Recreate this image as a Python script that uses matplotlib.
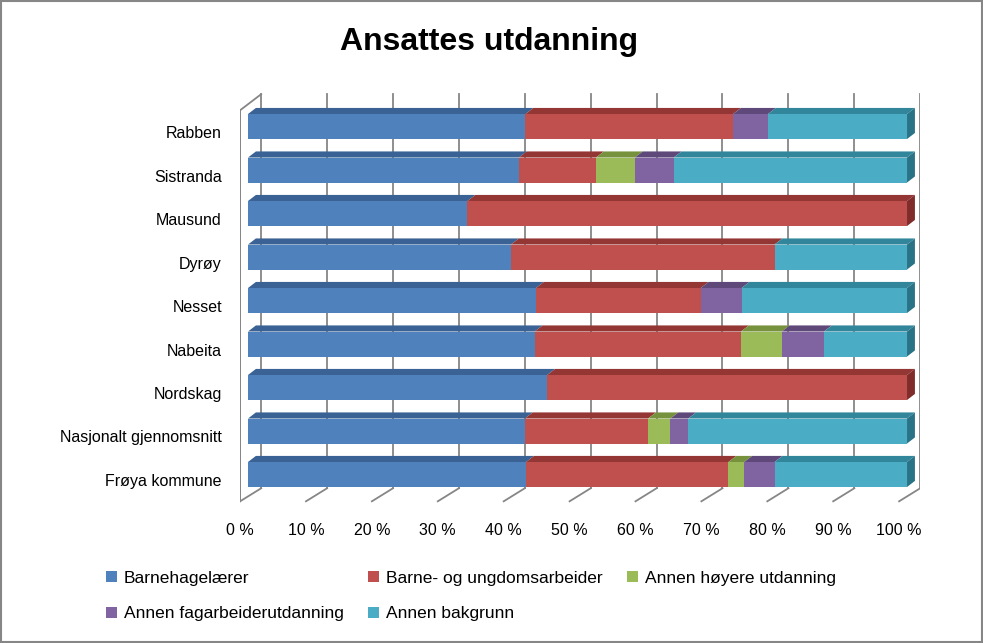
import matplotlib.pyplot as plt
from matplotlib.patches import Polygon, Rectangle, Patch
import numpy as np

plt.rcParams['font.family'] = ['Liberation Sans', 'DejaVu Sans']

# data (percent), bottom to top
categories = ['Frøya kommune', 'Nasjonalt gjennomsnitt', 'Nordskag', 'Nabeita', 'Nesset',
              'Dyrøy', 'Mausund', 'Sistranda', 'Rabben']
barnehagelaerer = [42.2, 42.0, 45.4, 43.5, 43.7, 39.9, 33.3, 41.1, 42.1]
barne_ungdom = [30.7, 18.7, 54.6, 31.3, 25.0, 40.0, 66.7, 11.7, 31.5]
annen_hoyere = [2.4, 3.4, 0.0, 6.2, 0.0, 0.0, 0.0, 5.9, 0.0]
annen_fagarb = [4.6, 2.7, 0.0, 6.4, 6.2, 0.0, 0.0, 5.9, 5.3]
annen_bakgrunn = [20.1, 33.2, 0.0, 12.6, 25.1, 20.1, 0.0, 35.4, 21.1]

series_names = ['Barnehagelærer', 'Barne- og ungdomsarbeider', 'Annen høyere utdanning',
                'Annen fagarbeiderutdanning', 'Annen bakgrunn']
front_colors = ['#4F81BD', '#C0504D', '#9BBB59', '#8064A2', '#4BACC6']
top_colors = ['#3A6295', '#943634', '#76923C', '#5F497A', '#31869B']
side_colors = ['#345684', '#7F2C2A', '#647D34', '#51406A', '#2A7386']

xticks = np.arange(0, 101, 10)
xtick_labels = ['%d %%' % v for v in xticks]

# 3d look, in data units
bar_h = 0.575
bar_off = 0.126
dx, dy = 1.2, 0.14
floor_front = (-1.2, -0.49)
floor_back = (2.0, -0.19)
wall_top_front = 8.5
wall_top_back = 8.87
grid_col = '#868686'

fig = plt.figure(figsize=(9.83, 6.43), dpi=100)
ax = fig.add_axes([240 / 983, (643 - 505) / 643, 680 / 983, 415 / 643])
ax.set_xlim(-1.214, 101.97)
ax.set_ylim(-0.575, 8.966)

# back wall grid and floor
for v in xticks:
    ax.plot([v + floor_back[0]] * 2, [floor_back[1], wall_top_back], color=grid_col, lw=1.3, zorder=1)
    ax.plot([v + floor_front[0], v + floor_back[0]], [floor_front[1], floor_back[1]],
            color=grid_col, lw=1.3, zorder=1)
ax.plot([floor_front[0], floor_front[0], floor_back[0]],
        [floor_front[1], wall_top_front, wall_top_back], color=grid_col, lw=1.3, zorder=1)

series = [barnehagelaerer, barne_ungdom, annen_hoyere, annen_fagarb, annen_bakgrunn]
ypos = np.arange(len(categories))
left = np.zeros(len(categories))
for k, vals in enumerate(series):
    vals = np.array(vals)
    ax.barh(ypos + bar_off, vals, left=left, height=bar_h, color=front_colors[k],
            edgecolor='none', zorder=3)
    for i in range(len(categories)):
        if vals[i] <= 0:
            continue
        x0, x1 = left[i], left[i] + vals[i]
        yt = ypos[i] + bar_off + bar_h / 2
        yb = ypos[i] + bar_off - bar_h / 2
        ax.add_patch(Polygon([(x0, yt), (x1, yt), (x1 + dx, yt + dy), (x0 + dx, yt + dy)],
                             closed=True, facecolor=top_colors[k], edgecolor='none', zorder=2))
        if abs(x1 - 100) < 0.05:
            ax.add_patch(Polygon([(x1, yb), (x1 + dx, yb + dy), (x1 + dx, yt + dy), (x1, yt)],
                                 closed=True, facecolor=side_colors[k], edgecolor='none', zorder=2))
    left = left + vals

ax.set_yticks(ypos)
ax.set_yticklabels(categories, fontsize=11.5)
ax.set_xticks(xticks + floor_front[0])
ax.set_xticklabels(xtick_labels, fontsize=11.5)
ax.tick_params(axis='y', length=0, pad=13)
ax.tick_params(axis='x', length=0, pad=13)
for s in ax.spines.values():
    s.set_visible(False)

fig.text(0.498, 0.935, 'Ansattes utdanning', ha='center', va='center',
         fontsize=23, fontweight='bold')

handles = [Patch(facecolor=c, edgecolor='none') for c in front_colors]
order = [0, 3, 1, 4, 2]
ax.legend([handles[i] for i in order], [series_names[i] for i in order], ncol=3,
          loc='upper left', bbox_to_anchor=(90 / 983, (643 - 555) / 643),
          bbox_transform=fig.transFigure, frameon=False, fontsize=12.5,
          handlelength=0.65, handleheight=0.65, handletextpad=0.4,
          columnspacing=1.4, labelspacing=1.2)

fig.add_artist(Rectangle((0.001, 0.0015), 0.998, 0.997, transform=fig.transFigure,
                         fill=False, edgecolor='#868686', lw=1.5))

fig.savefig('out.png', dpi=100)
